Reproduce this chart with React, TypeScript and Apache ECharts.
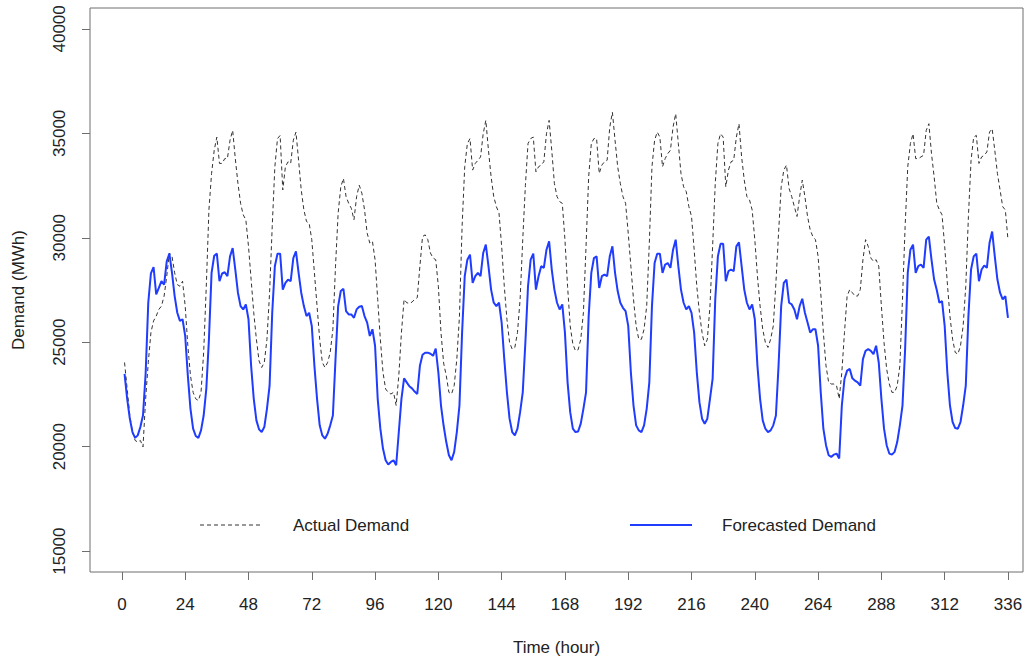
import React, { useEffect, useRef } from "react";
import * as echarts from "echarts";

// Hour index of each observation (1..336)
const hours: number[] = [
  1, 2, 3, 4, 5, 6, 7, 8, 9, 10, 11, 12, 13, 14, 15, 16, 17, 18, 19, 20, 21, 22, 23, 24,
  25, 26, 27, 28, 29, 30, 31, 32, 33, 34, 35, 36, 37, 38, 39, 40, 41, 42, 43, 44, 45, 46, 47, 48,
  49, 50, 51, 52, 53, 54, 55, 56, 57, 58, 59, 60, 61, 62, 63, 64, 65, 66, 67, 68, 69, 70, 71, 72,
  73, 74, 75, 76, 77, 78, 79, 80, 81, 82, 83, 84, 85, 86, 87, 88, 89, 90, 91, 92, 93, 94, 95, 96,
  97, 98, 99, 100, 101, 102, 103, 104, 105, 106, 107, 108, 109, 110, 111, 112, 113, 114, 115, 116, 117, 118, 119, 120,
  121, 122, 123, 124, 125, 126, 127, 128, 129, 130, 131, 132, 133, 134, 135, 136, 137, 138, 139, 140, 141, 142, 143, 144,
  145, 146, 147, 148, 149, 150, 151, 152, 153, 154, 155, 156, 157, 158, 159, 160, 161, 162, 163, 164, 165, 166, 167, 168,
  169, 170, 171, 172, 173, 174, 175, 176, 177, 178, 179, 180, 181, 182, 183, 184, 185, 186, 187, 188, 189, 190, 191, 192,
  193, 194, 195, 196, 197, 198, 199, 200, 201, 202, 203, 204, 205, 206, 207, 208, 209, 210, 211, 212, 213, 214, 215, 216,
  217, 218, 219, 220, 221, 222, 223, 224, 225, 226, 227, 228, 229, 230, 231, 232, 233, 234, 235, 236, 237, 238, 239, 240,
  241, 242, 243, 244, 245, 246, 247, 248, 249, 250, 251, 252, 253, 254, 255, 256, 257, 258, 259, 260, 261, 262, 263, 264,
  265, 266, 267, 268, 269, 270, 271, 272, 273, 274, 275, 276, 277, 278, 279, 280, 281, 282, 283, 284, 285, 286, 287, 288,
  289, 290, 291, 292, 293, 294, 295, 296, 297, 298, 299, 300, 301, 302, 303, 304, 305, 306, 307, 308, 309, 310, 311, 312,
  313, 314, 315, 316, 317, 318, 319, 320, 321, 322, 323, 324, 325, 326, 327, 328, 329, 330, 331, 332, 333, 334, 335, 336,
];

const actualDemand: number[] = [
  24030, 22760, 21490, 20700, 20300, 20220, 20300, 19990, 22290, 24030, 25460, 26020, 26250, 26570, 26730, 27210, 28160, 29270, 29110, 28320, 27760, 27680, 27920, 26730,
  24830, 23400, 22600, 22290, 22210, 22600, 24510, 27680, 31340, 33080, 34190, 34820, 33560, 33560, 33790, 33790, 34670, 35140, 33790, 32600, 31650, 31100, 30860, 29590,
  28000, 26410, 25140, 24110, 23790, 24030, 25140, 27370, 30540, 33400, 34750, 34900, 32290, 33400, 33640, 33560, 34670, 35060, 33710, 32290, 31340, 30780, 30700, 29910,
  28320, 26730, 25140, 24030, 23790, 24030, 24510, 25620, 28640, 31180, 32440, 32840, 31970, 31650, 31410, 30860, 31970, 32520, 32130, 31340, 30220, 29750, 29830, 28950,
  27050, 25140, 23560, 22760, 22600, 22520, 22600, 21970, 23400, 25460, 27050, 26890, 26860, 26920, 27050, 27130, 28640, 30060, 30140, 29910, 29270, 29030, 28950, 27680,
  25460, 24000, 23400, 22600, 22520, 22920, 24190, 26250, 30540, 33400, 34510, 34750, 33240, 33560, 33710, 33870, 34980, 35620, 34190, 32920, 31970, 31490, 31180, 29590,
  27680, 26100, 24990, 24670, 24750, 25460, 27050, 29910, 32500, 34510, 34750, 34820, 33160, 33400, 33480, 33640, 34980, 35620, 34190, 32600, 31970, 31730, 31650, 29910,
  27680, 25780, 24910, 24590, 24640, 25140, 26410, 29590, 32920, 34510, 34750, 34750, 33080, 33480, 33640, 33710, 35300, 36010, 34670, 33400, 32600, 31970, 31650, 30220,
  28640, 27050, 25780, 25140, 25140, 25620, 26730, 29750, 33400, 34670, 35060, 34820, 33400, 33790, 34030, 34190, 35300, 35940, 34510, 33080, 32440, 32210, 31490, 31020,
  29430, 27680, 26410, 25460, 24830, 25140, 26730, 29590, 32600, 34510, 34980, 34820, 32440, 33240, 33640, 33710, 34820, 35460, 33870, 32760, 31970, 31810, 31330, 29910,
  28160, 26730, 25620, 24990, 24750, 25140, 25780, 27840, 30220, 32440, 33240, 33480, 32360, 31970, 31490, 31020, 31970, 32760, 31970, 31020, 30380, 30060, 29910, 29110,
  27370, 25460, 23870, 23080, 23000, 23000, 22920, 22290, 23560, 25460, 27210, 27520, 27370, 27210, 27210, 27520, 28950, 29910, 29590, 29030, 28870, 28950, 28640, 26730,
  24990, 23720, 23000, 22600, 22600, 22920, 23870, 27050, 30540, 33400, 34510, 34980, 33790, 33790, 33870, 33950, 35140, 35460, 34030, 32920, 31650, 31330, 31100, 29590,
  27840, 26250, 25140, 24510, 24430, 24830, 25780, 27680, 31020, 33710, 34820, 34900, 33560, 33870, 33950, 34110, 35060, 35220, 34190, 33080, 32290, 31490, 31330, 29910,
];

const forecastedDemand: number[] = [
  23480, 22290, 21340, 20700, 20420, 20540, 20940, 21500, 23500, 26900, 28300, 28600, 27290, 27600, 27920, 27760, 28870, 29240, 28320, 27210, 26410, 26020, 26100, 25300,
  23400, 21810, 20860, 20510, 20420, 20780, 21490, 22760, 25140, 28320, 29140, 29240, 27920, 28290, 28350, 28160, 29110, 29510, 28480, 27370, 26730, 26570, 26810, 26100,
  23870, 22290, 21260, 20830, 20700, 20940, 21810, 22920, 26410, 28640, 29240, 29240, 27520, 27840, 28000, 27920, 29030, 29350, 28320, 27370, 26730, 26250, 26410, 25780,
  23870, 22290, 21020, 20540, 20380, 20620, 21020, 21490, 24190, 26730, 27450, 27560, 26490, 26330, 26330, 26170, 26570, 26700, 26730, 26250, 25940, 25300, 25620, 24830,
  22290, 20860, 19910, 19350, 19150, 19270, 19350, 19110, 20700, 22290, 23270, 23080, 22890, 22790, 22640, 22520, 23870, 24400, 24500, 24500, 24450, 24350, 24700, 23560,
  21970, 21000, 20220, 19590, 19350, 19750, 20700, 21970, 25460, 28160, 28950, 29190, 27840, 28160, 28320, 28160, 29270, 29670, 28640, 27520, 26890, 26730, 26890, 25940,
  24190, 22600, 21340, 20700, 20540, 20860, 21650, 22600, 25000, 27680, 28950, 29240, 27520, 28160, 28640, 28560, 29430, 29830, 28480, 27520, 26890, 26570, 26810, 25460,
  23080, 21650, 20860, 20700, 20730, 21100, 21810, 22600, 26250, 28320, 29030, 29110, 27600, 28160, 28240, 28160, 29110, 29590, 28320, 27450, 26890, 26650, 26490, 25780,
  23560, 21970, 21020, 20780, 20700, 21020, 21810, 23080, 26730, 28790, 29240, 29240, 28320, 28720, 28790, 28560, 29430, 29910, 28640, 27520, 26890, 26570, 26730, 26410,
  25460, 23560, 22130, 21340, 21100, 21340, 22290, 23240, 27050, 29110, 29710, 29710, 27920, 28400, 28480, 28400, 29590, 29780, 28640, 27520, 26890, 26570, 26810, 26100,
  23870, 22290, 21260, 20860, 20700, 20780, 21020, 21490, 23870, 26730, 27840, 28000, 26890, 26810, 26570, 26100, 26730, 27080, 26410, 25940, 25460, 25620, 25620, 24830,
  22600, 20860, 20070, 19590, 19510, 19620, 19670, 19430, 21970, 23240, 23640, 23720, 23270, 23160, 23080, 22920, 24190, 24590, 24670, 24590, 24430, 24830, 24030, 22290,
  20860, 20070, 19670, 19620, 19750, 20220, 21020, 21970, 24670, 28320, 29430, 29670, 28320, 28640, 28720, 28560, 29910, 30060, 28950, 28000, 27500, 26890, 26970, 25780,
  23560, 21970, 21180, 20890, 20860, 21180, 21970, 22920, 26250, 28480, 29110, 29240, 27920, 28480, 28670, 28560, 29750, 30300, 29110, 28000, 27370, 27050, 27210, 26170,
];

const xTicks: number[] = [0, 24, 48, 72, 96, 120, 144, 168, 192, 216, 240, 264, 288, 312, 336];
const yTicks: number[] = [15000, 20000, 25000, 30000, 35000, 40000];

const FONT = '"Liberation Sans", Arial, Helvetica, sans-serif';
const TEXT_COLOR = "#222";
const FRAME_COLOR = "#6f6f6f";

export default function App() {
  const ref = useRef<HTMLDivElement>(null);

  useEffect(() => {
    if (!ref.current) return;
    const chart = echarts.init(ref.current, undefined, { renderer: "svg" });

    const actualData = hours.map((h, i) => [h, actualDemand[i]]);
    const forecastData = hours.map((h, i) => [h, forecastedDemand[i]]);

    chart.setOption({
      animation: false,
      backgroundColor: "#ffffff",
      grid: {
        left: 90,
        right: 12,
        top: 8,
        bottom: 88,
        show: true,
        borderColor: FRAME_COLOR,
        borderWidth: 1,
        backgroundColor: "transparent",
      },
      xAxis: {
        type: "value",
        min: -12.1,
        max: 341.7,
        name: "Time (hour)",
        nameLocation: "middle",
        nameGap: 67,
        nameTextStyle: { fontFamily: FONT, fontSize: 17, color: TEXT_COLOR },
        axisLine: { show: false, onZero: false },
        axisTick: {
          show: true,
          length: 8,
          customValues: xTicks,
          lineStyle: { color: FRAME_COLOR, width: 1 },
        },
        axisLabel: {
          customValues: xTicks,
          margin: 24,
          fontFamily: FONT,
          fontSize: 17,
          color: TEXT_COLOR,
          formatter: (v: number) => String(v),
        },
        splitLine: { show: false },
      },
      yAxis: {
        type: "value",
        min: 14000,
        max: 41000,
        name: "Demand (MWh)",
        nameLocation: "middle",
        nameGap: 63,
        nameRotate: 90,
        nameTextStyle: { fontFamily: FONT, fontSize: 17, color: TEXT_COLOR },
        axisLine: { show: false, onZero: false },
        axisTick: {
          show: true,
          length: 8,
          customValues: yTicks,
          lineStyle: { color: FRAME_COLOR, width: 1 },
        },
        axisLabel: {
          customValues: yTicks,
          rotate: 90,
          margin: 22,
          fontFamily: FONT,
          fontSize: 17,
          color: TEXT_COLOR,
          formatter: (v: number) => String(v),
        },
        splitLine: { show: false },
      },
      series: [
        {
          name: "Actual Demand",
          type: "line",
          data: actualData,
          symbol: "none",
          lineStyle: { color: "#333333", width: 1, type: [4, 3] },
          z: 2,
        },
        {
          name: "Forecasted Demand",
          type: "line",
          data: forecastData,
          symbol: "none",
          lineStyle: { color: "#1f3cff", width: 2 },
          z: 3,
        },
      ],
      graphic: [
        {
          type: "line",
          shape: { x1: 200, y1: 525, x2: 262, y2: 525 },
          style: { stroke: "#333333", lineWidth: 1, lineDash: [4, 3] },
        },
        {
          type: "text",
          x: 293,
          y: 525,
          style: {
            text: "Actual Demand",
            fill: TEXT_COLOR,
            fontFamily: FONT,
            fontSize: 17,
            verticalAlign: "middle",
            align: "left",
          },
        },
        {
          type: "line",
          shape: { x1: 630, y1: 525, x2: 692, y2: 525 },
          style: { stroke: "#1f3cff", lineWidth: 2 },
        },
        {
          type: "text",
          x: 722,
          y: 525,
          style: {
            text: "Forecasted Demand",
            fill: TEXT_COLOR,
            fontFamily: FONT,
            fontSize: 17,
            verticalAlign: "middle",
            align: "left",
          },
        },
      ],
    });

    return () => {
      chart.dispose();
    };
  }, []);

  return (
    <div
      ref={ref}
      style={{ position: "fixed", left: 0, top: 0, width: 1035, height: 661, background: "#fff" }}
    />
  );
}
